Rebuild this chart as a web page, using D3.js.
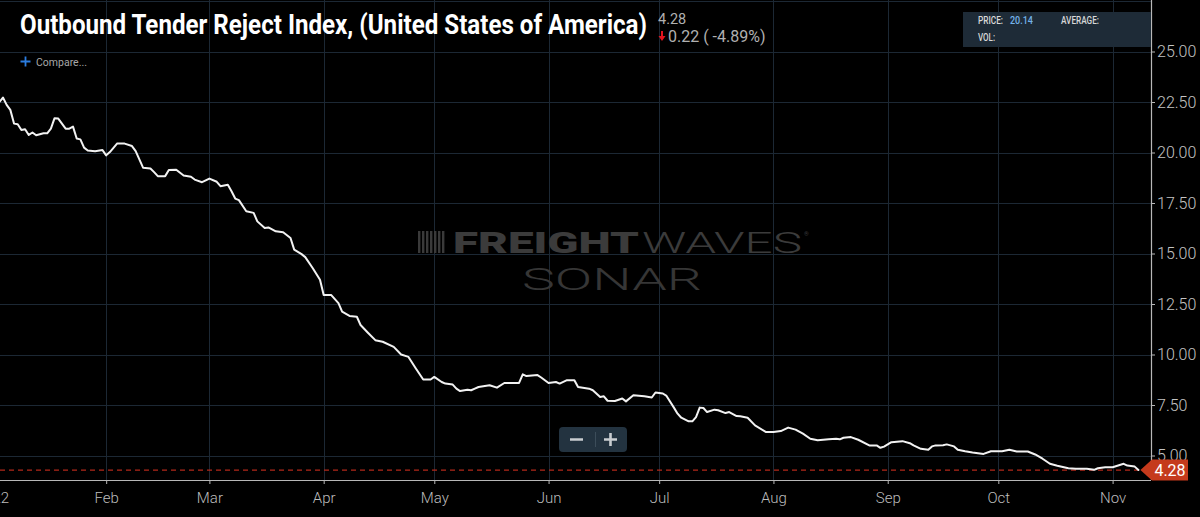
<!DOCTYPE html>
<html>
<head>
<meta charset="utf-8">
<script src="https://cdn.jsdelivr.net/npm/d3@7"></script>
<style>
  html, body { margin: 0; padding: 0; background: #000; }
  svg { display: block; font-family: Roboto, "Noto Sans", sans-serif; }
</style>
</head>
<body>
<svg id="chart" width="1200" height="517"></svg>
<script>
// ---------------- DATA ----------------
const dates = [
  "2022-01-03","2022-01-04","2022-01-05","2022-01-06","2022-01-07","2022-01-08","2022-01-09","2022-01-10",
  "2022-01-11","2022-01-12","2022-01-13","2022-01-15","2022-01-16","2022-01-17","2022-01-18","2022-01-19",
  "2022-01-21","2022-01-22","2022-01-23","2022-01-24","2022-01-25","2022-01-26","2022-01-27","2022-01-29",
  "2022-01-31","2022-02-01","2022-02-02","2022-02-04","2022-02-06","2022-02-08","2022-02-09","2022-02-11",
  "2022-02-13","2022-02-14","2022-02-15","2022-02-17","2022-02-18","2022-02-20","2022-02-22","2022-02-24",
  "2022-02-25","2022-02-27","2022-03-01","2022-03-03","2022-03-04","2022-03-06","2022-03-07","2022-03-08",
  "2022-03-09","2022-03-11","2022-03-13","2022-03-14","2022-03-16","2022-03-17","2022-03-19","2022-03-21",
  "2022-03-23","2022-03-24","2022-03-26","2022-03-27","2022-03-29","2022-03-31","2022-04-01","2022-04-03",
  "2022-04-05","2022-04-06","2022-04-08","2022-04-10","2022-04-11","2022-04-13","2022-04-15","2022-04-17",
  "2022-04-20","2022-04-22","2022-04-24","2022-04-26","2022-04-28","2022-04-30","2022-05-01","2022-05-03",
  "2022-05-04","2022-05-06","2022-05-07","2022-05-08","2022-05-10","2022-05-11","2022-05-12","2022-05-13",
  "2022-05-16","2022-05-18","2022-05-20","2022-05-21","2022-05-24","2022-05-25","2022-05-26","2022-05-29",
  "2022-05-30","2022-06-01","2022-06-03","2022-06-04","2022-06-06","2022-06-08","2022-06-09","2022-06-12",
  "2022-06-13","2022-06-15","2022-06-16","2022-06-17","2022-06-19","2022-06-21","2022-06-22","2022-06-24",
  "2022-06-27","2022-06-29","2022-06-30","2022-07-02","2022-07-03","2022-07-05","2022-07-06","2022-07-07",
  "2022-07-09","2022-07-10","2022-07-11","2022-07-12","2022-07-13","2022-07-14","2022-07-16","2022-07-17",
  "2022-07-19","2022-07-20","2022-07-22","2022-07-23","2022-07-25","2022-07-27","2022-07-30","2022-08-01",
  "2022-08-03","2022-08-05","2022-08-07","2022-08-09","2022-08-11","2022-08-13","2022-08-16","2022-08-18",
  "2022-08-19","2022-08-20","2022-08-22","2022-08-24","2022-08-27","2022-08-29","2022-08-30","2022-08-31",
  "2022-09-02","2022-09-05","2022-09-07","2022-09-08","2022-09-10","2022-09-12","2022-09-13","2022-09-14",
  "2022-09-16","2022-09-17","2022-09-19","2022-09-20","2022-09-22","2022-09-24","2022-09-27","2022-09-29",
  "2022-10-02","2022-10-04","2022-10-06","2022-10-09","2022-10-11","2022-10-13","2022-10-15","2022-10-17",
  "2022-10-20","2022-10-22","2022-10-25","2022-10-27","2022-10-28","2022-10-30","2022-11-01","2022-11-04",
  "2022-11-05","2022-11-07","2022-11-08"
];
const values = [
  22.49,22.72,22.36,22.11,21.43,21.40,21.11,21.15,
  20.87,20.99,20.85,20.95,20.95,21.18,21.70,21.68,
  21.18,21.18,21.28,20.69,20.65,20.24,20.10,20.06,
  20.12,19.86,20.02,20.45,20.44,20.32,20.07,19.25,
  19.21,19.03,18.83,18.83,19.13,19.15,18.86,18.80,
  18.66,18.53,18.71,18.55,18.33,18.40,18.08,17.72,
  17.64,17.09,17.01,16.59,16.26,16.29,16.10,16.05,
  15.77,15.19,14.97,14.82,14.28,13.70,12.95,12.95,
  12.54,12.12,11.91,11.87,11.46,11.08,10.71,10.63,
  10.38,10.00,9.88,9.31,8.76,8.76,8.89,8.64,
  8.56,8.51,8.31,8.19,8.26,8.23,8.31,8.39,
  8.48,8.36,8.59,8.59,8.59,9.02,8.93,8.98,
  8.86,8.59,8.64,8.56,8.73,8.73,8.39,8.31,
  8.23,7.90,7.93,7.71,7.70,7.82,7.68,7.98,
  7.93,7.87,8.12,8.07,7.95,7.37,7.07,6.87,
  6.69,6.69,6.90,7.37,7.35,7.15,7.27,7.24,
  7.10,7.15,6.95,6.94,6.87,6.49,6.16,6.16,
  6.21,6.38,6.28,6.08,5.83,5.75,5.80,5.83,
  5.80,5.88,5.91,5.78,5.50,5.50,5.38,5.44,
  5.66,5.71,5.61,5.50,5.33,5.28,5.45,5.50,
  5.51,5.55,5.45,5.28,5.21,5.15,5.08,5.21,
  5.21,5.28,5.20,5.20,5.05,4.84,4.59,4.49,
  4.37,4.34,4.34,4.29,4.37,4.42,4.42,4.59,
  4.50,4.45,4.28
];
const xTickDates = ["2022-01-01","2022-02-01","2022-03-01","2022-04-01","2022-05-01","2022-06-01",
                    "2022-07-01","2022-08-01","2022-09-01","2022-10-01","2022-11-01"];
const xTickLabels = ["2022","Feb","Mar","Apr","May","Jun","Jul","Aug","Sep","Oct","Nov"];
const yTickValues = [5, 7.5, 10, 12.5, 15, 17.5, 20, 22.5, 25];
const yGridValues = [5, 7.5, 10, 12.5, 15, 17.5, 20, 22.5, 25, 27.5];
const titleText = "Outbound Tender Reject Index, (United States of America)";
const lastValueText = "4.28";
const changeText = "0.22 ( -4.89%)";
const priceText = "20.14";

// ---------------- SETUP ----------------
const parse = d3.utcParse("%Y-%m-%d");
const data = dates.map((d, i) => ({ date: parse(d), value: values[i] }));
const svg = d3.select("#chart");
const W = 1200, plotRight = 1151, axisY = 480;

const x = d3.scaleUtc()
  .domain([parse("2022-01-01"), parse("2022-11-01")])
  .range([-8.1, 1112.6]);
const y = d3.scaleLinear().domain([5, 25]).range([455.5, 51.5]);

svg.append("rect").attr("width", W).attr("height", 517).attr("fill", "#000");

// grid
const grid = svg.append("g").attr("stroke", "#1c2834").attr("stroke-width", 1);
grid.selectAll("line.h").data(yGridValues).join("line")
  .attr("x1", 0).attr("x2", plotRight)
  .attr("y1", d => Math.round(y(d)) + 0.5).attr("y2", d => Math.round(y(d)) + 0.5);
grid.selectAll("line.v").data(xTickDates.map(parse)).join("line")
  .attr("y1", 0).attr("y2", axisY)
  .attr("x1", d => Math.round(x(d)) + 0.5).attr("x2", d => Math.round(x(d)) + 0.5);

// watermark
const wm = svg.append("g");
const logoBars = [0, 4, 8, 12, 16, 20, 24];
wm.selectAll("rect.logo").data(logoBars).join("rect")
  .attr("x", d => 418 + d).attr("y", 231).attr("width", 2.4).attr("height", 22)
  .attr("fill", "#3a3a3a");
wm.append("text").attr("x", 453).attr("y", 253).attr("font-size", 30).attr("font-weight", 900)
  .attr("fill", "#3b3b3b").attr("textLength", 186).attr("lengthAdjust", "spacingAndGlyphs")
  .text("FREIGHT");
wm.append("text").attr("x", 642).attr("y", 253).attr("font-size", 30).attr("font-weight", 300)
  .attr("fill", "#3b3b3b").attr("textLength", 160).attr("lengthAdjust", "spacingAndGlyphs")
  .text("WAVES");
wm.append("text").attr("x", 804).attr("y", 236).attr("font-size", 6)
  .attr("fill", "#3b3b3b").text("®");
wm.append("text").attr("x", 522).attr("y", 290).attr("font-size", 31).attr("font-weight", 300)
  .attr("fill", "#363636").attr("textLength", 180).attr("lengthAdjust", "spacingAndGlyphs")
  .text("SONAR");

// zero-axis lines
svg.append("line").attr("x1", 0).attr("x2", plotRight).attr("y1", axisY + 0.5).attr("y2", axisY + 0.5)
  .attr("stroke", "#b8b8b8").attr("stroke-width", 1.2);
svg.append("line").attr("x1", plotRight + 0.5).attr("x2", plotRight + 0.5).attr("y1", 0).attr("y2", axisY)
  .attr("stroke", "#b8b8b8").attr("stroke-width", 1.2);

// axes
const yAxis = d3.axisRight(y).tickValues(yTickValues).tickFormat(d3.format(".2f"))
  .tickSize(4).tickPadding(2);
const gy = svg.append("g").attr("transform", `translate(${plotRight},0)`).call(yAxis);
gy.select(".domain").remove();
gy.selectAll("line").attr("stroke", "#b8b8b8");
gy.selectAll("text").attr("fill", "#c4c4c4").attr("font-size", 16).attr("font-weight", 300)
  .attr("font-family", "Roboto");

const xAxis = d3.axisBottom(x).tickValues(xTickDates.map(parse))
  .tickFormat((d, i) => xTickLabels[i]).tickSize(4).tickPadding(8);
const gx = svg.append("g").attr("transform", `translate(0,${axisY})`).call(xAxis);
gx.select(".domain").remove();
gx.selectAll("line").attr("stroke", "#b8b8b8");
gx.selectAll("text").attr("fill", "#bdbdbd").attr("font-size", 15).attr("font-weight", 300)
  .attr("font-family", "Roboto");

// last-value dashed line
const last = data[data.length - 1];
const ly = y(last.value);
svg.append("line").attr("x1", 0).attr("x2", x(last.date)).attr("y1", ly).attr("y2", ly)
  .attr("stroke", "#b3291a").attr("stroke-width", 1.2).attr("stroke-dasharray", "5,4");

// series line
const line = d3.line().x(d => x(d.date)).y(d => y(d.value));
svg.append("path").datum(data).attr("d", line)
  .attr("fill", "none").attr("stroke", "#f2f2f2").attr("stroke-width", 2)
  .attr("stroke-linejoin", "round").attr("stroke-linecap", "round");

// last value tag
const tagL = x(last.date) + 2;
svg.append("path")
  .attr("d", `M${tagL},${ly} L${plotRight + 1},${ly - 10.5} L${1188},${ly - 10.5} L${1188},${ly + 10.5} L${plotRight + 1},${ly + 10.5} Z`)
  .attr("fill", "#c53a1c");
svg.append("text").attr("x", 1170).attr("y", ly + 6).attr("text-anchor", "middle")
  .attr("font-size", 16).attr("fill", "#fff").attr("font-weight", 400).text(lastValueText);

// title + header info
svg.append("text").attr("x", 20).attr("y", 34).attr("font-size", 27).attr("font-weight", 700)
  .attr("fill", "#fff").attr("textLength", 627).attr("lengthAdjust", "spacingAndGlyphs")
  .text(titleText);
svg.append("text").attr("x", 658).attr("y", 24).attr("font-size", 14.5).attr("fill", "#b0b0b0")
  .text(lastValueText);
svg.append("path").attr("d", "M661,31 L663,31 L663,36 L665.5,36 L662,41 L658.5,36 L661,36 Z")
  .attr("fill", "#e0141e");
svg.append("text").attr("x", 668).attr("y", 42).attr("font-size", 16).attr("fill", "#b0b0b0")
  .text(changeText);

// compare
svg.append("path").attr("d", "M20.5,61.5 H30.5 M25.5,56.5 V66.5").attr("stroke", "#2b7de0")
  .attr("stroke-width", 1.8);
svg.append("text").attr("x", 36).attr("y", 65.5).attr("font-size", 10.5).attr("fill", "#a8a8a8")
  .text("Compare...");

// price box
svg.append("rect").attr("x", 963).attr("y", 12).attr("width", 188).attr("height", 35)
  .attr("fill", "#1e2b37");
const boxTxt = [
  { t: "PRICE:", x: 978, y: 24, c: "#d8d8d8", w: 25 },
  { t: priceText, x: 1010, y: 24, c: "#74b3ea", w: 23 },
  { t: "AVERAGE:", x: 1061, y: 24, c: "#d8d8d8", w: 38 },
  { t: "VOL:", x: 978, y: 41, c: "#d8d8d8", w: 17 }
];
svg.selectAll("text.box").data(boxTxt).join("text")
  .attr("x", d => d.x).attr("y", d => d.y).attr("font-size", 10).attr("font-weight", 500)
  .attr("fill", d => d.c).attr("textLength", d => d.w).attr("lengthAdjust", "spacingAndGlyphs")
  .text(d => d.t);

// zoom control
svg.append("rect").attr("x", 559).attr("y", 427).attr("width", 68).attr("height", 25).attr("rx", 4)
  .attr("fill", "#233340");
svg.append("line").attr("x1", 595.5).attr("x2", 595.5).attr("y1", 432).attr("y2", 447)
  .attr("stroke", "#3c4d5a");
svg.append("path").attr("d", "M570,439.5 H583 M604,439.5 H617 M610.5,433 V446")
  .attr("stroke", "#c9cdd0").attr("stroke-width", 2.6);
</script>
</body>
</html>
